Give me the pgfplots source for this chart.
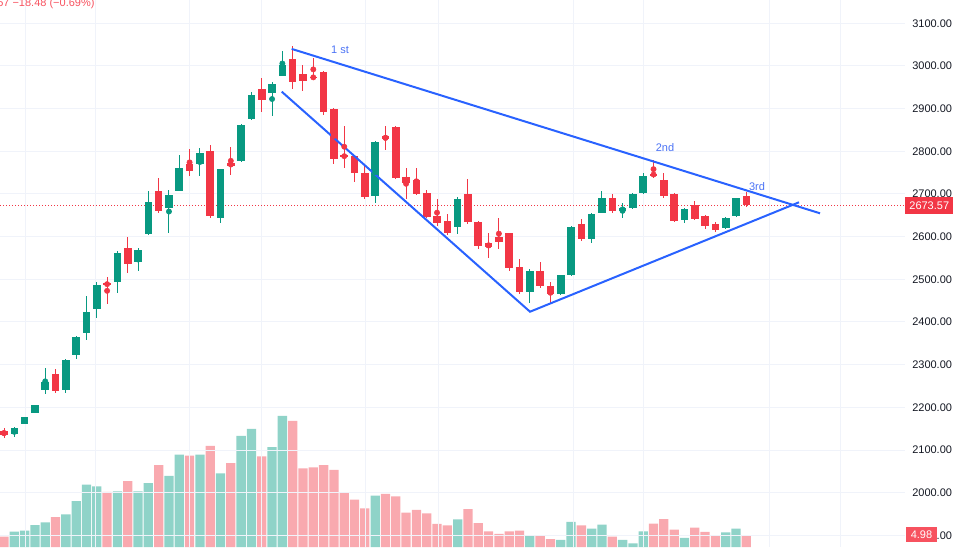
\documentclass[border=0pt]{standalone}
\usepackage{fontspec}
\setmainfont{Liberation Sans}
\usepackage{pgfplots}
\usepackage{pgfplotstable}
\pgfplotsset{compat=1.18}
\definecolor{upc}{HTML}{089981}
\definecolor{dnc}{HTML}{F23645}
\definecolor{upv}{HTML}{8FD3C8}
\definecolor{dnv}{HTML}{F9A9AF}
\definecolor{tl}{HTML}{2962FF}
\definecolor{tltxt}{HTML}{4A72F5}
\definecolor{gridc}{HTML}{F0F3FA}
\definecolor{axtxt}{HTML}{131722}
\definecolor{hdr}{HTML}{F7525F}

\pgfplotstableread{
i o h l c
2 2137.5 2153.9 2131.2 2152.2
3 2161.6 2177.5 2160.0 2176.6
4 2187.4 2206.0 2186.0 2205.4
5 2239.9 2291.4 2230.5 2259.3
7 2240.6 2313.3 2232.9 2310.9
8 2323.3 2367.2 2313.2 2364.8
9 2373.5 2460.9 2357.8 2424.1
10 2429.7 2494.4 2409.3 2486.0
12 2493.0 2566.4 2467.2 2562.4
14 2539.9 2572.7 2520.2 2568.7
15 2605.5 2707.7 2603.9 2681.2
17 2667.8 2708.6 2609.2 2696.9
18 2707.7 2790.6 2707.0 2760.9
20 2769.5 2807.0 2742.8 2796.7
22 2643.0 2759.0 2631.3 2758.5
24 2777.3 2864.0 2775.0 2861.0
25 2875.0 2938.3 2873.4 2931.3
27 2935.9 2961.7 2883.4 2957.0
28 2977.2 3035.1 2976.5 3001.6
37 2696.0 2824.0 2678.1 2822.5
45 2623.3 2693.0 2606.2 2688.9
52 2471.0 2523.5 2443.8 2519.5
55 2464.9 2510.0 2463.0 2509.4
56 2510.1 2625.0 2508.0 2623.3
58 2595.2 2654.3 2584.4 2652.4
59 2656.1 2707.0 2655.4 2689.9
61 2660.1 2678.1 2643.0 2667.8
62 2667.1 2701.6 2664.8 2699.2
63 2703.0 2748.5 2701.0 2742.8
67 2638.3 2667.0 2632.7 2664.8
71 2619.6 2646.0 2617.9 2644.4
72 2648.4 2691.7 2647.2 2689.9
}\uptable

\pgfplotstableread{
i o h l c
1 2144.5 2150.8 2128.8 2134.4
6 2278.8 2289.1 2234.3 2239.0
11 2490.7 2504.7 2441.4 2486.7
13 2572.7 2599.9 2514.1 2535.2
16 2706.3 2736.7 2655.4 2659.4
19 2770.2 2805.4 2742.8 2753.8
21 2800.7 2814.8 2644.4 2649.1
23 2772.6 2810.8 2744.5 2765.6
26 2946.0 2971.1 2891.4 2920.9
29 3016.3 3046.8 2945.3 2963.1
30 2981.2 3002.3 2942.0 2965.5
31 2974.8 3018.0 2966.0 2971.8
32 2986.6 2988.0 2885.1 2892.8
33 2898.4 2902.2 2770.2 2782.0
34 2791.3 2860.0 2761.6 2786.0
35 2789.7 2791.0 2727.4 2748.5
36 2748.5 2770.2 2687.5 2693.6
38 2835.2 2860.0 2803.1 2828.1
39 2857.7 2859.0 2734.4 2738.1
40 2740.5 2760.2 2687.5 2726.4
41 2732.8 2761.6 2698.0 2699.9
42 2703.0 2709.3 2643.7 2646.7
43 2649.1 2687.5 2624.9 2631.3
44 2636.7 2652.4 2603.9 2609.2
46 2699.2 2735.1 2629.6 2633.6
47 2635.0 2636.7 2571.0 2578.8
48 2584.4 2607.8 2550.7 2575.0
49 2599.9 2643.0 2571.0 2588.2
50 2607.8 2608.5 2519.5 2525.8
51 2529.6 2547.6 2464.9 2469.6
53 2519.5 2541.3 2478.9 2485.0
54 2485.0 2493.0 2443.8 2464.9
57 2628.9 2642.5 2589.8 2595.2
60 2691.7 2699.9 2654.7 2660.8
64 2747.5 2779.6 2736.7 2743.8
65 2732.1 2748.5 2689.9 2695.3
66 2699.2 2702.0 2634.3 2636.7
68 2674.2 2683.5 2639.0 2642.0
69 2647.7 2650.7 2617.2 2624.2
70 2628.9 2635.0 2610.9 2614.9
73 2695.3 2705.3 2669.5 2673.57
}\dntable

\pgfplotstableread{
i v
2 6.35
3 6.76
4 9.13
5 10.25
7 13.57
8 19.09
9 25.85
10 25.19
12 23.12
14 23.12
15 26.56
17 29.47
18 38.30
20 38.30
22 30.59
24 46.07
25 48.97
27 41.50
28 54.37
37 21.29
45 11.50
52 4.98
55 2.91
56 10.38
58 7.59
59 9.25
61 2.91
62 1.54
63 6.52
67 3.74
71 6.10
72 7.59
}\upvol

\pgfplotstableread{
i v
1 4.27
6 12.45
11 22.83
13 27.39
16 34.03
19 37.89
21 41.92
23 34.86
26 37.64
29 52.29
30 32.66
31 33.08
32 34.03
33 31.96
34 22.41
35 19.63
36 16.06
38 22.00
39 21.04
40 14.23
41 15.36
42 13.99
43 9.55
44 9.01
46 15.77
47 9.96
48 6.52
49 5.40
50 6.52
51 6.76
53 4.98
54 3.32
57 9.01
60 4.27
64 9.67
65 11.62
66 7.18
68 8.01
69 6.23
70 4.69
73 4.98
}\dnvol

\begin{document}
\begin{tikzpicture}
\clip (0,0) rectangle (720pt,410.25pt);
% volume
\begin{axis}[at={(0,0)}, anchor=south west, scale only axis,
  width=678.75pt, height=410.25pt,
  xmin=0.612, xmax=88.39, ymin=0, ymax=227.0,
  axis line style={draw=none}, ticks=none]
\addplot[ybar, bar width=0.9, bar shift=0pt, fill=upv, draw=none] table[x=i,y=v]{\upvol};
\addplot[ybar, bar width=0.9, bar shift=0pt, fill=dnv, draw=none] table[x=i,y=v]{\dnvol};
\end{axis}
% price
\begin{axis}[at={(0,0)}, anchor=south west, scale only axis,
  width=678.75pt, height=410.25pt,
  xmin=0.612, xmax=88.39, ymin=1872.7, ymax=3154.6,
  axis line style={draw=none},
  major tick length=0pt,
  xtick={3.04,9.92,19.04,26.02,36.11,43.10,56.19,63.07,75.20,82.18},
  xticklabels={},
  ytick={1900,2000,2100,2200,2300,2400,2500,2600,2700,2800,2900,3000,3100},
  yticklabels={1900.00,2000.00,2100.00,2200.00,2300.00,2400.00,2500.00,2600.00,2700.00,2800.00,2900.00,3000.00,3100.00},
  yticklabel pos=right,
  yticklabel style={anchor=west, inner sep=0pt, xshift=5.25pt, text=axtxt, font=\fontsize{8.25pt}{10pt}\selectfont},
  grid=major, grid style={gridc, line width=0.75pt}]
% current price line
\addplot[dnc, line width=0.6pt, dash pattern=on 0.75pt off 1.5pt, forget plot] coordinates {(0.612,2673.57) (88.39,2673.57)};
% wicks
\addplot[upc, only marks, mark=none, forget plot, error bars/.cd, y dir=both, y explicit, error mark=none,
  error bar style={line width=0.75pt, upc}]
  table[x=i, y expr={(\thisrow{h}+\thisrow{l})/2}, y error expr={(\thisrow{h}-\thisrow{l})/2}] {\uptable};
\addplot[dnc, only marks, mark=none, forget plot, error bars/.cd, y dir=both, y explicit, error mark=none,
  error bar style={line width=0.75pt, dnc}]
  table[x=i, y expr={(\thisrow{h}+\thisrow{l})/2}, y error expr={(\thisrow{h}-\thisrow{l})/2}] {\dntable};
% bodies
\addplot[upc, only marks, mark=none, forget plot, error bars/.cd, y dir=both, y explicit, error mark=none,
  error bar style={line width=5.7pt, upc}]
  table[x=i, y expr={(\thisrow{o}+\thisrow{c})/2}, y error expr={abs(\thisrow{c}-\thisrow{o})/2}] {\uptable};
\addplot[dnc, only marks, mark=none, forget plot, error bars/.cd, y dir=both, y explicit, error mark=none,
  error bar style={line width=5.7pt, dnc}]
  table[x=i, y expr={(\thisrow{o}+\thisrow{c})/2}, y error expr={abs(\thisrow{c}-\thisrow{o})/2}] {\dntable};
% trend lines
\addplot[tl, line width=1.5pt, forget plot] coordinates {(28.90,3040.0) (80.15,2654.7)};
\addplot[tl, line width=1.5pt, forget plot] coordinates {(27.94,2939.7) (52.02,2424.1) (78.11,2680.5)};
\node[text=tltxt, font=\fontsize{8.25pt}{10pt}\selectfont] at (axis cs:33.6,3037.4) {1 st};
\node[text=tltxt, font=\fontsize{8.25pt}{10pt}\selectfont] at (axis cs:65.11,2807.8) {2nd};
\node[text=tltxt, font=\fontsize{8.25pt}{10pt}\selectfont] at (axis cs:74.04,2716.4) {3rd};
\coordinate (pricetag) at (axis cs:88.39,2673.57);
\end{axis}
\node[anchor=west, fill=dnc, text=white, inner sep=0pt, minimum width=36pt, minimum height=12.5pt,
  font=\fontsize{8.25pt}{10pt}\selectfont] at (pricetag) {2673.57};
\node[fill=hdr, text=white, inner sep=0pt, minimum width=23.25pt, minimum height=11.25pt,
  font=\fontsize{8.25pt}{10pt}\selectfont] at (691.1pt,9.4pt) {4.98};
\node[anchor=base west, text=hdr, inner sep=0pt, font=\fontsize{8.25pt}{10pt}\selectfont] at (-2.25pt,405pt) {57 −18.48 (−0.69\%)};
\end{tikzpicture}
\end{document}
